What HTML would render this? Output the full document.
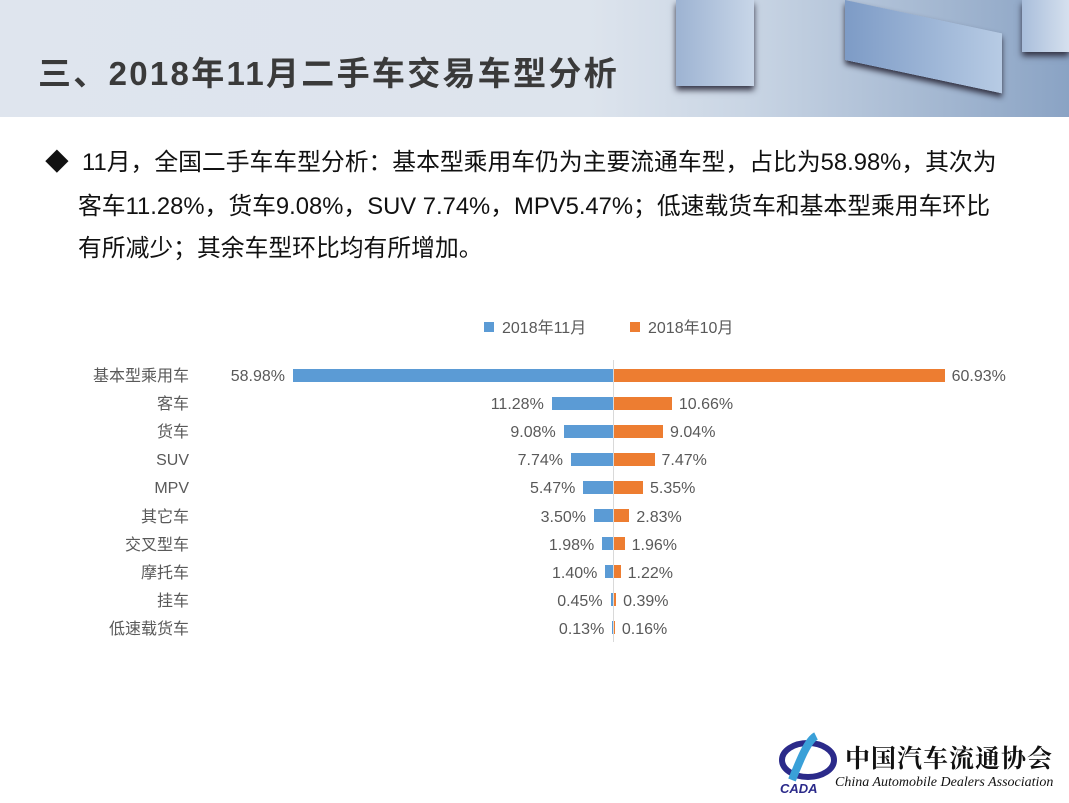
<!DOCTYPE html>
<html><head><meta charset="utf-8"><style>
body{margin:0;width:1069px;height:803px;background:#fff;position:relative;overflow:hidden;font-family:"Liberation Sans","Noto Sans CJK SC",sans-serif;}
.hdr{position:absolute;left:0;top:0;width:1069px;height:117px;background:linear-gradient(90deg,#dfe5ee 0%,#dde4ed 55%,#c9d5e4 70%,#8aa3c4 100%);}
.title{position:absolute;left:38px;top:54px;font-size:33px;line-height:40px;font-weight:bold;color:#3a3a3a;letter-spacing:2.3px;white-space:nowrap;}
.bl{position:absolute;font-size:23.8px;line-height:30px;color:#111;white-space:nowrap;}
.lab{position:absolute;font-size:16px;line-height:20px;height:20px;color:#595959;white-space:nowrap;}
.bar{position:absolute;height:13px;}
</style></head><body>
<div class="hdr"></div>
<div style="position:absolute;left:676px;top:0;width:78px;height:86px;background:linear-gradient(90deg,#9db3d2,#c8d6e8);box-shadow:0 4px 6px #334"></div>
<div style="position:absolute;left:845px;top:0;width:157px;height:60px;background:linear-gradient(90deg,#7d9bc6,#b7cbe4);transform:skewY(12deg);transform-origin:0 0;box-shadow:0 4px 6px #334"></div>
<div style="position:absolute;left:1022px;top:0;width:47px;height:52px;background:linear-gradient(90deg,#a9bedb,#d5e0ee);box-shadow:0 4px 6px #334"></div>
<div class="title">三、2018年11月二手车交易车型分析</div>
<div class="bl" style="top:148px;left:45px">◆&nbsp; 11月，全国二手车车型分析：基本型乘用车仍为主要流通车型，占比为58.98%，其次为</div>
<div class="bl" style="top:192px;left:78px">客车11.28%，货车9.08%，SUV 7.74%，MPV5.47%；低速载货车和基本型乘用车环比</div>
<div class="bl" style="top:234px;left:78px">有所减少；其余车型环比均有所增加。</div>
<div style="position:absolute;left:484px;top:322px;width:10px;height:10px;background:#5b9bd5"></div>
<div class="lab" style="left:502px;top:319px">2018年11月</div>
<div style="position:absolute;left:630px;top:322px;width:10px;height:10px;background:#ed7d31"></div>
<div class="lab" style="left:648px;top:319px">2018年10月</div>
<div style="position:absolute;left:613px;top:360px;width:1px;height:282px;background:#d9d9d9"></div>
<div id="c"></div>
<script>
var d=[["基本型乘用车",58.98,60.93],["客车",11.28,10.66],["货车",9.08,9.04],["SUV",7.74,7.47],["MPV",5.47,5.35],["其它车",3.50,2.83],["交叉型车",1.98,1.96],["摩托车",1.40,1.22],["挂车",0.45,0.39],["低速载货车",0.13,0.16]];
var h="",s=5.426,cx=613;
d.forEach(function(r,i){var y=375+i*28.1;var a=r[1]*s,b=r[2]*s;
h+='<div class="lab" style="right:'+(1069-189)+'px;top:'+(y-8)+'px">'+r[0]+'</div>';
h+='<div class="bar" style="background:#5b9bd5;left:'+(cx-a)+'px;width:'+a+'px;top:'+(y-6.5)+'px"></div>';
h+='<div class="bar" style="background:#ed7d31;left:'+(cx+1)+'px;width:'+b+'px;top:'+(y-6.5)+'px"></div>';
h+='<div class="lab" style="right:'+(1069-(cx-a)+8)+'px;top:'+(y-8)+'px">'+r[1].toFixed(2)+'%</div>';
h+='<div class="lab" style="left:'+(cx+b+8)+'px;top:'+(y-8)+'px">'+r[2].toFixed(2)+'%</div>';});
document.getElementById("c").innerHTML=h;
</script>
<svg style="position:absolute;left:778px;top:730px" width="60" height="66"><ellipse cx="30" cy="30" rx="26" ry="17" fill="none" stroke="#2b2a8a" stroke-width="6"/><path d="M38 6 C30 10 22 30 14 50" stroke="#3aa0d8" stroke-width="8" fill="none"/><text x="2" y="63" font-size="13" font-weight="bold" font-style="italic" fill="#2b2a8a" font-family="Liberation Sans">CADA</text></svg>
<div style="position:absolute;left:845px;top:742px;font-size:25px;line-height:30px;color:#111;font-family:'Noto Serif CJK SC',serif;font-weight:bold;letter-spacing:1px;white-space:nowrap">中国汽车流通协会</div>
<div style="position:absolute;left:835px;top:775px;font-size:14px;font-style:italic;color:#111;font-family:'Liberation Serif',serif;white-space:nowrap">China Automobile Dealers Association</div>
</body></html>
